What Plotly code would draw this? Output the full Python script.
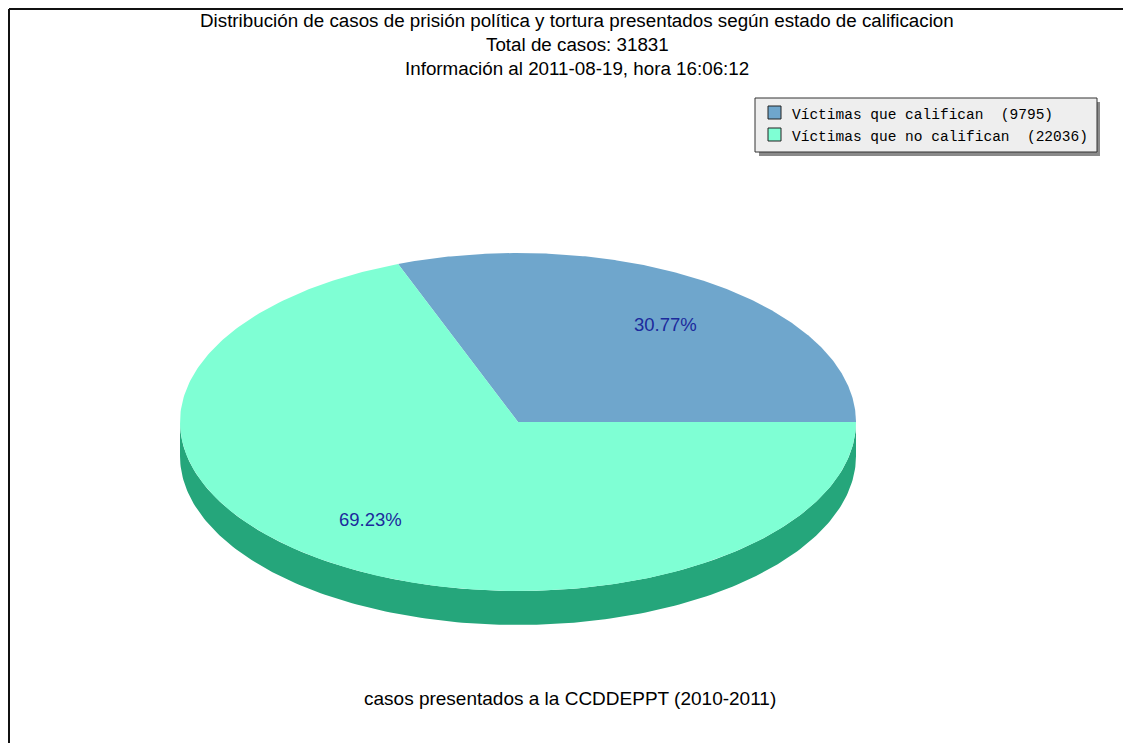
import numpy as np
import plotly.graph_objects as go

# data
labels = ["Víctimas que califican", "Víctimas que no califican"]
counts = [9795, 22036]
colors = ["#6fa6cc", "#7fffd4"]
side_colors = ["#4a7fa3", "#25a67b"]
title_lines = [
    "Distribución de casos de prisión política y tortura presentados según estado de calificacion",
    "Total de casos: 31831",
    "Información al 2011-08-19, hora 16:06:12",
]
footer = "casos presentados a la CCDDEPPT (2010-2011)"

W, H = 1131, 751
OFF = 8  # page body margin
cx, cy, rx, ry, depth = 518, 422, 338, 169, 34

total = sum(counts)
fracs = [c / total for c in counts]

fig = go.Figure()


def ell(a, dy=0):
    return cx + rx * np.cos(a), cy - ry * np.sin(a) + dy


# side (visible lower half) first
start = 0.0
for f, sc in zip(fracs, side_colors):
    a0, a1 = start, start + f * 2 * np.pi
    start = a1
    lo, hi = max(a0, np.pi), min(a1, 2 * np.pi)
    if hi <= lo:
        continue
    t = np.linspace(lo, hi, 200)
    xt, yt = ell(t)
    xb, yb = ell(t[::-1], depth)
    fig.add_trace(go.Scatter(
        x=np.concatenate([xt, xb, xt[:1]]), y=np.concatenate([yt, yb, yt[:1]]),
        mode="lines", fill="toself", fillcolor=sc, line=dict(width=0, color=sc),
        hoverinfo="skip", showlegend=False))

# top faces
start = 0.0
for f, c, lab in zip(fracs, colors, labels):
    a0, a1 = start, start + f * 2 * np.pi
    start = a1
    t = np.linspace(a0, a1, 300)
    xe, ye = ell(t)
    fig.add_trace(go.Scatter(
        x=np.concatenate([[cx], xe, [cx]]), y=np.concatenate([[cy], ye, [cy]]),
        mode="lines", fill="toself", fillcolor=c, line=dict(width=0, color=c),
        hoverinfo="skip", showlegend=False))
    am = (a0 + a1) / 2
    fig.add_annotation(x=cx + 0.77 * rx * np.cos(am), y=cy - 0.70 * ry * np.sin(am),
                       text=f"{f * 100:.2f}%", showarrow=False,
                       font=dict(family="Liberation Sans", size=18.5, color="#1c2a9c"))

# titles
for i, line in enumerate(title_lines):
    fig.add_annotation(x=577, y=20 + 24 * i, text=line, showarrow=False,
                       font=dict(family="Liberation Sans", size=18.8, color="black"))
fig.add_annotation(x=570, y=698, text=footer, showarrow=False,
                   font=dict(family="Liberation Sans", size=19, color="black"))

# legend box
shapes = [
    dict(type="rect", x0=759, y0=102, x1=1100, y1=156, fillcolor="#8a8a8a", line=dict(width=0)),
    dict(type="rect", x0=755, y0=98, x1=1097, y1=152, fillcolor="#eeeeee", line=dict(width=1, color="#333")),
    # frame
    dict(type="line", x0=9, y0=9, x1=W, y1=9, line=dict(width=2, color="#111")),
    dict(type="line", x0=9, y0=9, x1=9, y1=H, line=dict(width=2, color="#111")),
]
for i, (lab, cnt, c) in enumerate(zip(labels, counts, colors)):
    yy = 112 + 22 * i
    shapes.append(dict(type="rect", x0=768, y0=yy - 6, x1=781, y1=yy + 7, fillcolor=c,
                       line=dict(width=1, color="#222")))
    fig.add_annotation(x=790, y=yy + 2.5, xanchor="left", text=f"{lab}  ({cnt})".replace(" ", "&nbsp;"),
                       showarrow=False, font=dict(family="Liberation Mono", size=14.5, color="black"))

fig.update_layout(
    width=W - 2 * OFF, height=H - 2 * OFF, margin=dict(l=0, r=0, t=0, b=0),
    paper_bgcolor="white", plot_bgcolor="white", shapes=shapes,
    xaxis=dict(range=[OFF, W - OFF], visible=False, fixedrange=True),
    yaxis=dict(range=[H - OFF, OFF], visible=False, fixedrange=True),
)
fig.write_html("out.html")
